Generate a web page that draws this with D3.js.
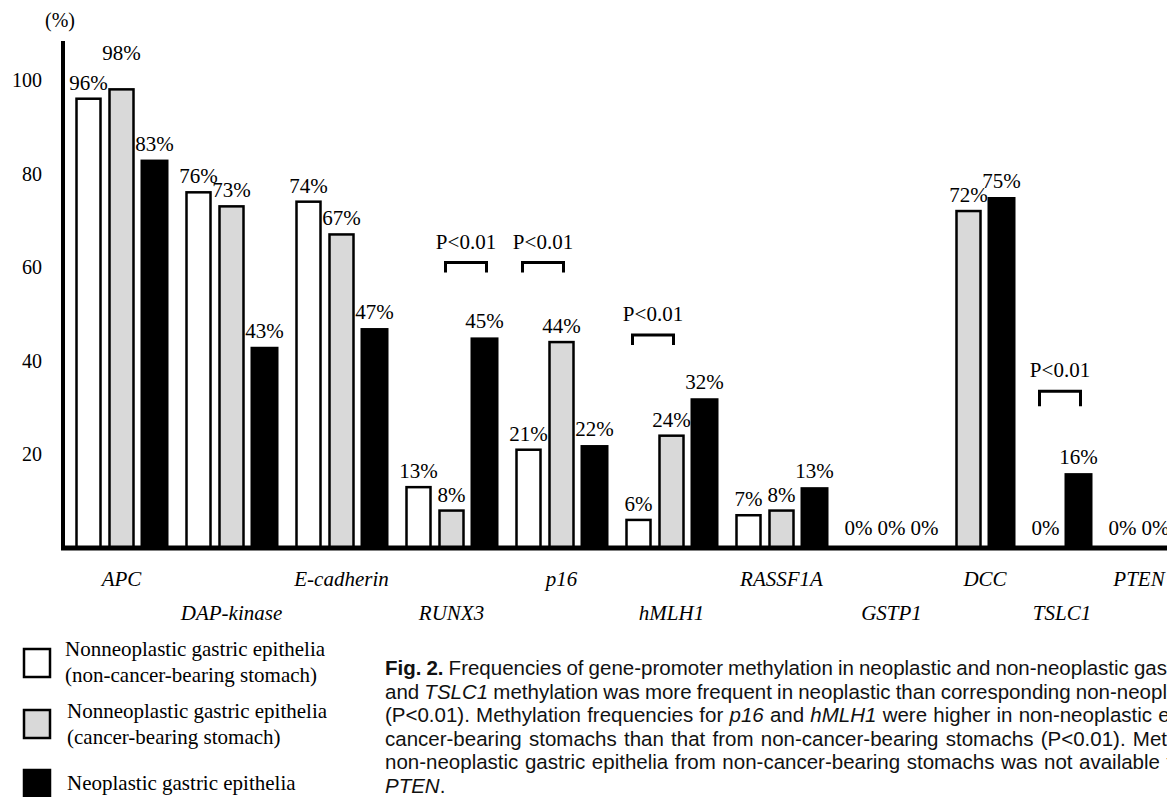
<!DOCTYPE html>
<html>
<head>
<meta charset="utf-8">
<script src="https://cdn.jsdelivr.net/npm/d3@7"></script>
<style>
  html, body { margin: 0; padding: 0; background: #fff; overflow: hidden; }
  svg { display: block; }
</style>
</head>
<body>
<svg id="chart" width="1167" height="797"></svg>
<script>
// ---------------- data ----------------
const categories = ["APC", "DAP-kinase", "E-cadherin", "RUNX3", "p16", "hMLH1", "RASSF1A", "GSTP1", "DCC", "TSLC1", "PTEN"];
const seriesNames = [
  ["Nonneoplastic gastric epithelia", "(non-cancer-bearing stomach)"],
  ["Nonneoplastic gastric epithelia", "(cancer-bearing stomach)"],
  ["Neoplastic gastric epithelia"]
];
// null = not available
const nonCancerBearing = [96, 76, 74, 13, 21, 6, 7, 0, null, null, null];
const cancerBearing    = [98, 73, 67, 8, 44, 24, 8, 0, 72, 0, 0];
const neoplastic       = [83, 43, 47, 45, 22, 32, 13, 0, 75, 16, 0];
const yTicks = [20, 40, 60, 80, 100];
// significance brackets: category, series a, series b, bracket level (%)
const compCategories = ["RUNX3", "p16", "hMLH1", "TSLC1"];
const compFrom = [1, 0, 0, 1];
const compTo   = [2, 1, 1, 2];
const compLevel = [61, 61, 45.5, 33.5];
const compText = "P<0.01";
const captionLines = [
  [["b", "Fig. 2."], ["n", " Frequencies of gene-promoter methylation in neoplastic and non-neoplastic gastric epithelia. "], ["i", "RUNX3"]],
  [["n", "and "], ["i", "TSLC1"], ["n", " methylation was more frequent in neoplastic than corresponding non-neoplastic epithelia"]],
  [["n", "(P<0.01). Methylation frequencies for "], ["i", "p16"], ["n", " and "], ["i", "hMLH1"], ["n", " were higher in non-neoplastic epithelia from"]],
  [["n", "cancer-bearing stomachs than that from non-cancer-bearing stomachs (P<0.01). Methylation in"]],
  [["n", "non-neoplastic gastric epithelia from non-cancer-bearing stomachs was not available for "], ["i", "DCC"], ["n", ","]],
  [["i", "PTEN"], ["n", "."]]
];
// justification anchors (text fragment, x where it ends in the figure)
const captionFitText = ["non-neoplastic gas", "non-neopl", "non-neoplastic", "(P<0.01). Met", "not available", null];
const captionFitX = [1167, 1167, 1152, 1167, 1160, null];

// ---------------- setup ----------------
const seriesData = [nonCancerBearing, cancerBearing, neoplastic];
const fills = ["#ffffff", "#d9d9d9", "#000000"];
const serif = "'Liberation Serif', 'Times New Roman', serif";
const sans = "'Liberation Sans', Arial, sans-serif";

const svg = d3.select("#chart");
const y = d3.scaleLinear().domain([0, 100]).range([548, 80]);

// slot layout: each available series gets a slot, groups separated by a gap
const gapFrac = 1 / 3;
const bars = [];
let slot = 0;
const groupCenters = [];
categories.forEach((c, gi) => {
  const xs = [];
  seriesData.forEach((arr, si) => {
    const v = arr[gi];
    if (v === null) return;
    const pos = slot + gi * gapFrac;
    bars.push({ cat: c, gi, si, value: v, pos });
    xs.push(pos);
    slot++;
  });
  groupCenters.push(d3.mean(xs));
});
const maxPos = d3.max(bars, d => d.pos);
const x = d3.scaleLinear().domain([0, maxPos]).range([88.5, 1155.5]);

// ---------------- bars ----------------
const gBars = svg.append("g");
gBars.selectAll("rect").data(bars).join("rect")
  .attr("x", d => x(d.pos) - (d.si === 2 ? 14 : 12))
  .attr("width", d => d.si === 2 ? 28 : 24)
  .attr("y", d => y(d.value))
  .attr("height", d => y(0) - y(d.value))
  .attr("fill", d => fills[d.si])
  .attr("stroke", d => d.si === 2 ? "none" : "#000")
  .attr("stroke-width", 2.5);

// ---------------- value labels ----------------
const gLab = svg.append("g")
  .attr("font-family", serif).attr("font-size", 21).attr("fill", "#000");
const labs = gLab.selectAll("text").data(bars).join("text")
  .attr("x", d => x(d.pos))
  .attr("y", d => y(d.value) - (d.value === 0 ? 13 : 9))
  .attr("text-anchor", "middle")
  .text(d => d.value + "%");
// avoid collisions between neighbouring labels of the same group
const nodes = labs.nodes();
for (let i = 1; i < nodes.length; i++) {
  const a = bars[i - 1], b = bars[i];
  if (a.gi !== b.gi) continue;
  const ba = nodes[i - 1].getBBox(), bb = nodes[i].getBBox();
  const hOverlap = Math.min(ba.x + ba.width, bb.x + bb.width) - Math.max(ba.x, bb.x);
  const ya = +nodes[i - 1].getAttribute("y"), yb = +nodes[i].getAttribute("y");
  if (hOverlap > 0 && Math.abs(ya - yb) < 12) {
    nodes[i].setAttribute("y", Math.min(ya, yb) - 20);
  }
}

// ---------------- axes ----------------
svg.append("line")
  .attr("x1", 63).attr("x2", 63).attr("y1", 41).attr("y2", 550)
  .attr("stroke", "#000").attr("stroke-width", 4);
svg.append("line")
  .attr("x1", 61).attr("x2", 1167).attr("y1", y(0)).attr("y2", y(0))
  .attr("stroke", "#000").attr("stroke-width", 5);

const yAxis = d3.axisLeft(y).tickValues(yTicks).tickSize(0).tickPadding(0);
const gy = svg.append("g").attr("transform", "translate(42,0)").call(yAxis);
gy.select(".domain").remove();
gy.selectAll("text").attr("font-family", serif).attr("font-size", 20).attr("fill", "#000");

svg.append("text").attr("x", 45).attr("y", 27)
  .attr("font-family", serif).attr("font-size", 20).text("(%)");

// ---------------- category labels ----------------
svg.append("g").attr("font-family", serif).attr("font-size", 21).attr("font-style", "italic")
  .selectAll("text").data(categories).join("text")
  .attr("x", (d, i) => x(groupCenters[i]))
  .attr("y", (d, i) => i % 2 === 0 ? 586 : 620)
  .attr("text-anchor", "middle")
  .text(d => d);

// ---------------- significance brackets ----------------
const gComp = svg.append("g");
compCategories.forEach((c, k) => {
  const gi = categories.indexOf(c);
  const ba = bars.find(b => b.gi === gi && b.si === compFrom[k]);
  const bb = bars.find(b => b.gi === gi && b.si === compTo[k]);
  const x1 = x(ba.pos) - 6, x2 = x(bb.pos) + 2, yy = y(compLevel[k]);
  const leg = c === "TSLC1" ? 15 : 10;
  gComp.append("path")
    .attr("d", `M${x1},${yy + leg}V${yy}H${x2}V${yy + leg}`)
    .attr("fill", "none").attr("stroke", "#000").attr("stroke-width", 3);
  gComp.append("text")
    .attr("x", (x1 + x2) / 2).attr("y", yy - 14)
    .attr("text-anchor", "middle")
    .attr("font-family", serif).attr("font-size", 21)
    .text(compText);
});

// ---------------- legend ----------------
const legBoxY = [649, 710, 770];
const legTextY = [656, 718, 790];
const gLeg = svg.append("g");
seriesNames.forEach((lines, i) => {
  gLeg.append("rect")
    .attr("x", 24).attr("y", legBoxY[i]).attr("width", 26).attr("height", 28)
    .attr("fill", fills[i]).attr("stroke", "#000").attr("stroke-width", 2.5);
  const t = gLeg.append("text")
    .attr("x", i === 0 ? 65 : 67).attr("y", legTextY[i])
    .attr("font-family", serif).attr("font-size", 21);
  lines.forEach((ln, j) => {
    t.append("tspan").attr("x", i === 0 ? 65 : 67).attr("dy", j === 0 ? 0 : 26).text(ln);
  });
});

// ---------------- caption ----------------
const capX = 385;
const gCap = svg.append("g").attr("font-family", sans).attr("font-size", 20.5).attr("fill", "#111");
captionLines.forEach((parts, li) => {
  const t = gCap.append("text").attr("x", capX).attr("y", 675 + li * 23.6);
  parts.forEach(([kind, str]) => {
    const s = t.append("tspan").text(str);
    if (kind === "b") s.attr("font-weight", "bold");
    if (kind === "i") s.attr("font-style", "italic");
  });
  // justify: stretch word spacing so the anchor fragment ends where it does in the figure
  const frag = captionFitText[li];
  if (frag) {
    const full = parts.map(p => p[1]).join("");
    const end = full.indexOf(frag) + frag.length;
    const node = t.node();
    const w = node.getSubStringLength(0, end);
    const spaces = (full.slice(0, end).match(/ /g) || []).length;
    const ws = (captionFitX[li] - capX - w) / spaces;
    t.attr("word-spacing", ws.toFixed(2));
  }
});
</script>
</body>
</html>
